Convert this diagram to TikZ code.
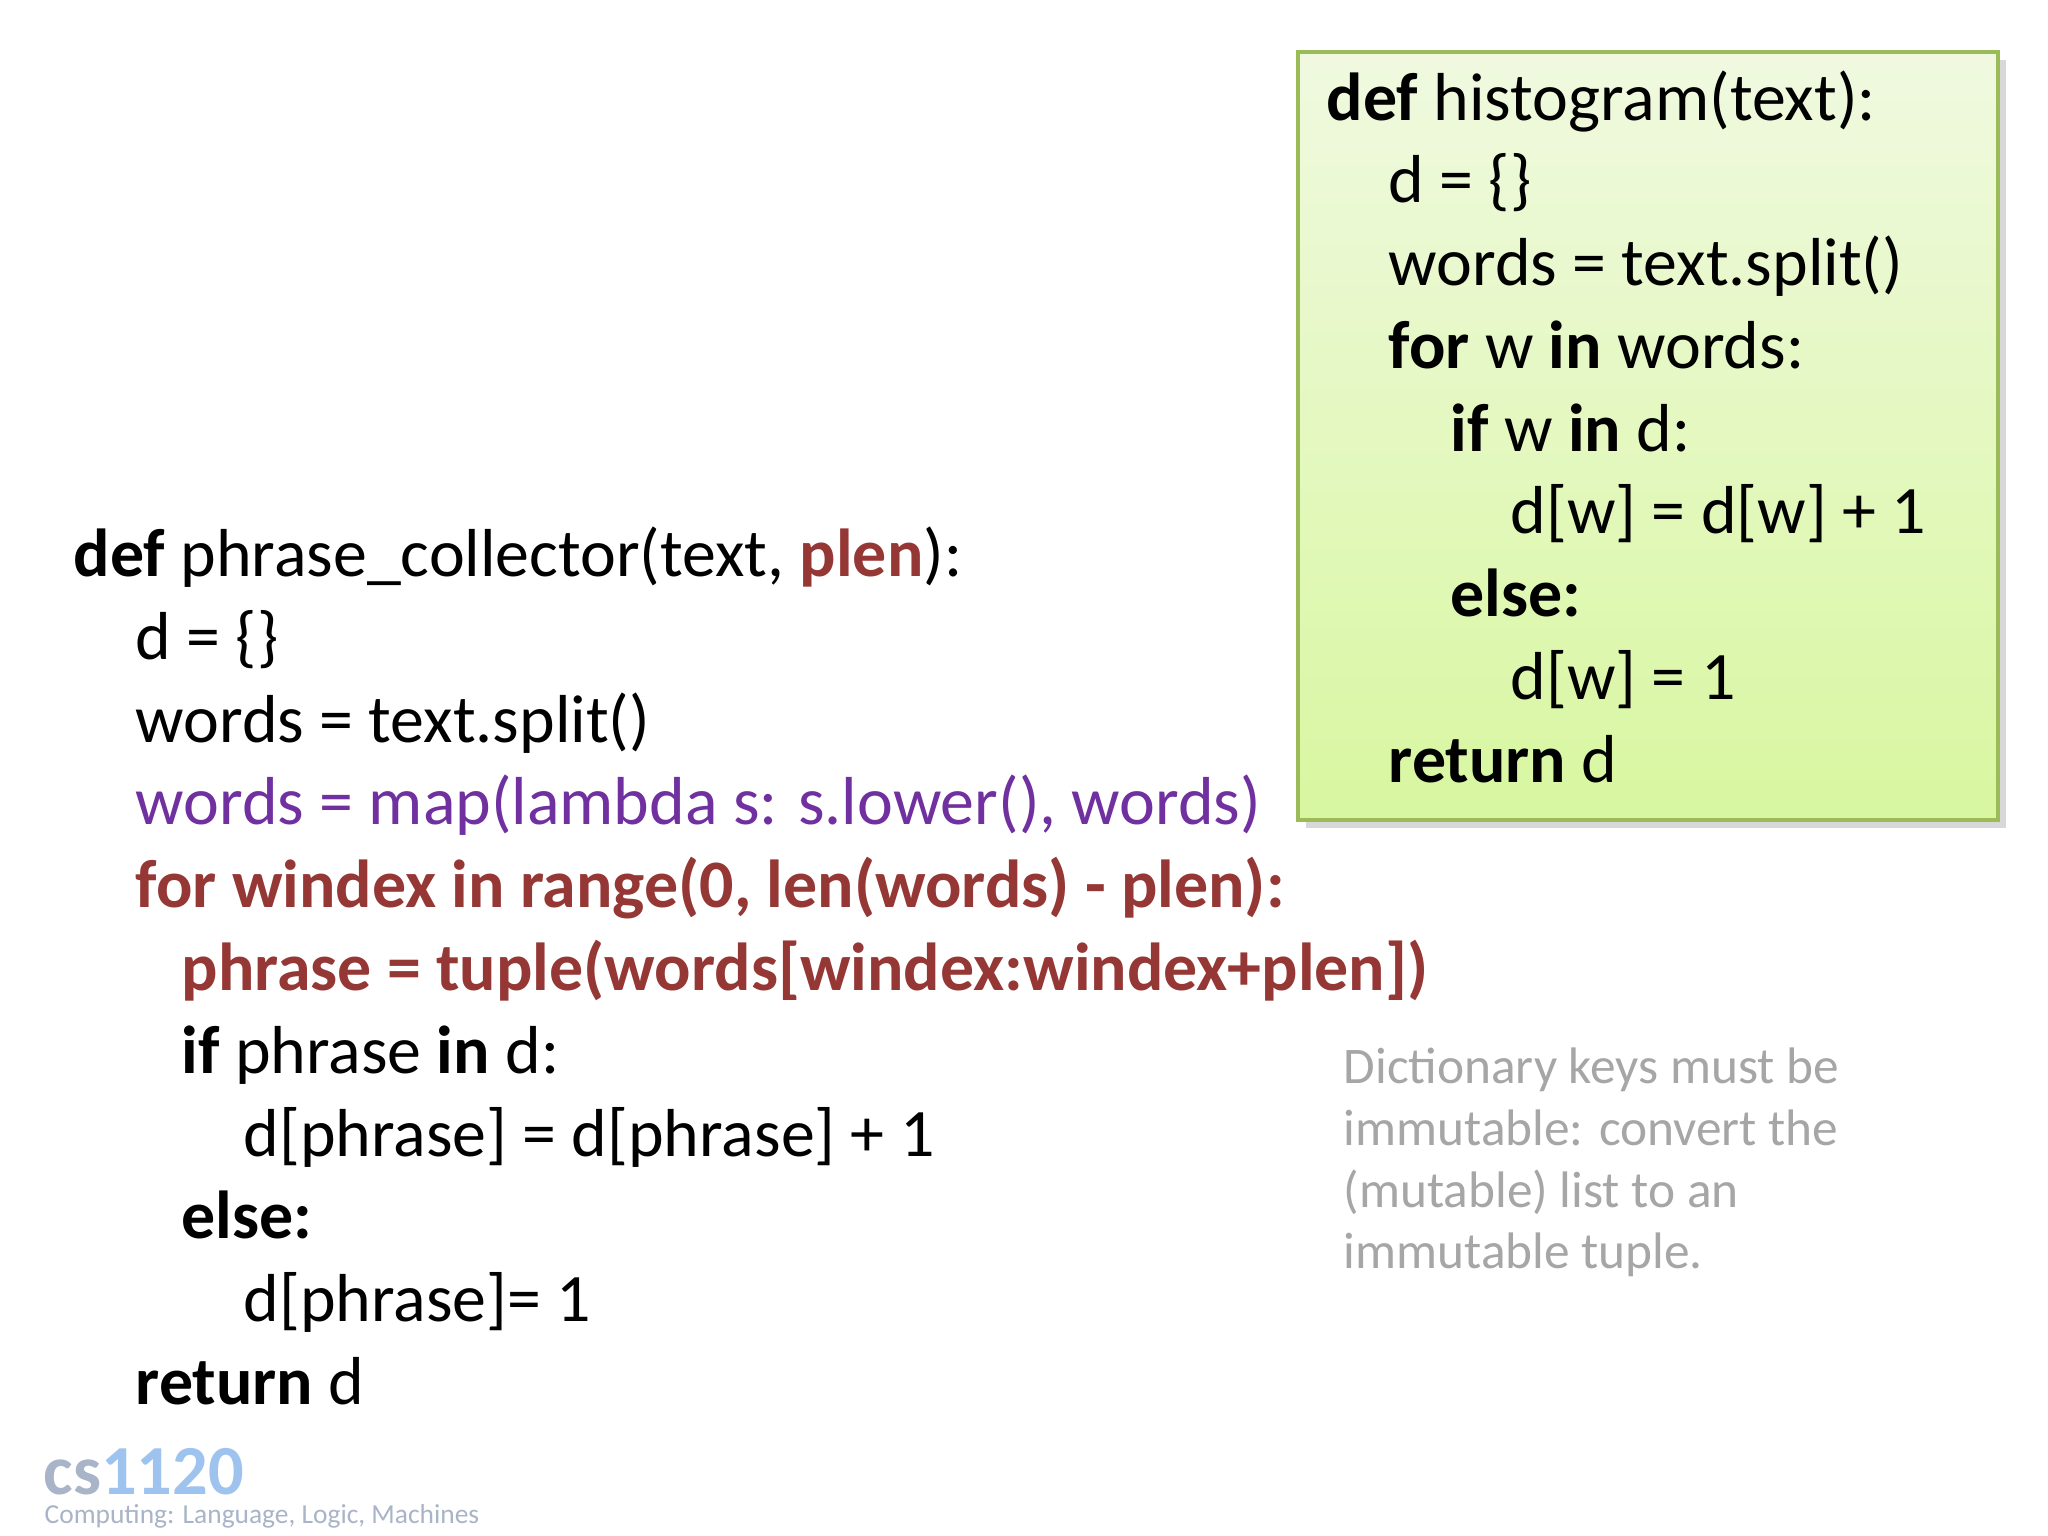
\documentclass[tikz,border=0pt]{standalone}
\usepackage{fontspec}
\setmainfont{Carlito}
\usetikzlibrary{shadows}
\definecolor{kred}{HTML}{953735}
\definecolor{kpur}{HTML}{7030A0}
\definecolor{note}{HTML}{A6A6A6}
\definecolor{gtop}{HTML}{F0F9E0}
\definecolor{gbot}{HTML}{D8F7A0}
\definecolor{gbord}{HTML}{9BBB59}
\definecolor{logoA}{HTML}{A9B4C8}
\definecolor{logoB}{HTML}{9EC3EE}
\begin{document}
\begin{tikzpicture}[x=0.01cm,y=-0.01cm,
  code/.style={anchor=base west,inner sep=0pt,font=\fontsize{19.3}{23}\selectfont},
  notestyle/.style={anchor=base west,inner sep=0pt,font=\fontsize{14.6}{18}\selectfont,text=note}]
\useasboundingbox (0,0) rectangle (2048,1536);
\fill[white] (0,0) rectangle (2048,1536);
% histogram box
\shade[top color=gtop,bottom color=gbot,draw=gbord,line width=1.2pt,drop shadow={opacity=0.3}] (1298,52) rectangle (1998,820);
\node[code] (h1) at (1326,120) {\textbf{def} histogram(text):};
\node[code] (h2) at (1388,202) {d = \{\}};
\node[code] (h3) at (1388,285) {words = text.split()};
\node[code] (h4) at (1388,368) {\textbf{for} w \textbf{in} words:};
\node[code] (h5) at (1450,451) {\textbf{if} w \textbf{in} d:};
\node[code] (h6) at (1510,533) {d[w] = d[w] + 1};
\node[code] (h7) at (1450,616) {\textbf{else:}};
\node[code] (h8) at (1510,699) {d[w] = 1};
\node[code] (h9) at (1388,782) {\textbf{return} d};
% phrase collector
\node[code] (p1) at (73,576) {\textbf{def} phrase\_collector(text, \textcolor{kred}{\textbf{plen}}):};
\node[code] (p2) at (135,659) {d = \{\}};
\node[code] (p3) at (135,742) {words = text.split()};
\node[code,text=kpur] (p4) at (135,824) {words = map(lambda s: s.lower(), words)};
\node[code,text=kred,font=\fontsize{19.3}{23}\selectfont\bfseries] (p5) at (135,907) {for windex in range(0, len(words) - plen):};
\node[code,text=kred,font=\fontsize{19.3}{23}\selectfont\bfseries] (p6) at (181,990) {phrase = tuple(words[windex:windex+plen])};
\node[code] (p7) at (181,1073) {\textbf{if} phrase \textbf{in} d:};
\node[code] (p8) at (243,1156) {d[phrase] = d[phrase] + 1};
\node[code] (p9) at (181,1238) {\textbf{else:}};
\node[code] (p10) at (243,1321) {d[phrase]= 1};
\node[code] (p11) at (135,1404) {\textbf{return} d};
% note
\node[notestyle] (n1) at (1343,1083) {Dictionary keys must be};
\node[notestyle] (n2) at (1343,1145) {immutable: convert the};
\node[notestyle] (n3) at (1343,1207) {(mutable) list to an};
\node[notestyle] (n4) at (1343,1268) {immutable tuple.};
% logo
\node[anchor=base west,inner sep=0pt,font=\fontsize{20}{22}\selectfont\bfseries] (logo) at (43,1494) {\textcolor{logoA}{cs}\textcolor{logoB}{1120}};
\node[anchor=base west,inner sep=0pt,font=\fontsize{7.8}{9}\selectfont,text=logoA] (sub) at (44,1523) {Computing: Language, Logic, Machines};
\end{tikzpicture}
\end{document}
